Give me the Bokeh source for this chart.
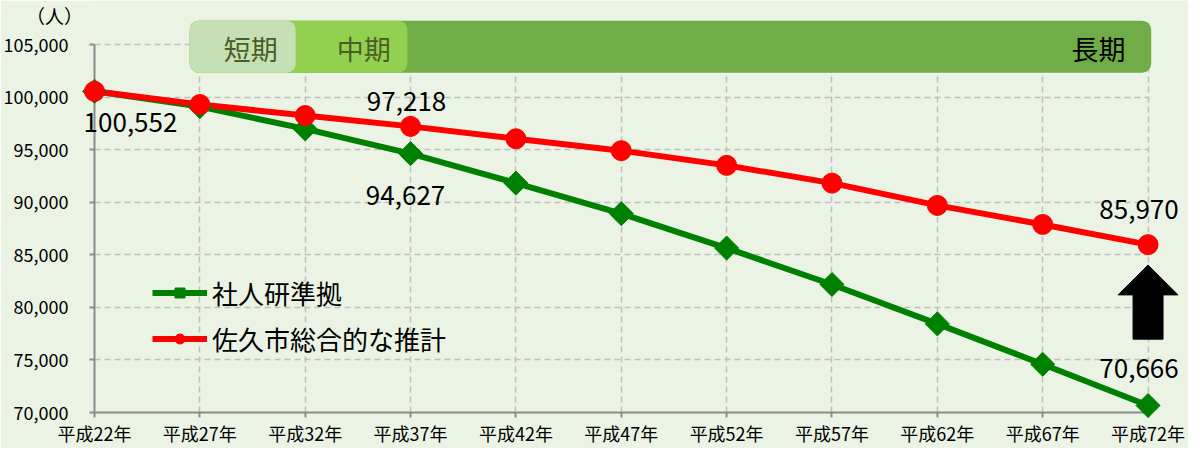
import numpy as np
from bokeh.plotting import figure
from bokeh.models import (FixedTicker, Label, Legend, LegendItem, BoxAnnotation,
                          NumeralTickFormatter, Range1d, ColumnDataSource)
from bokeh.core.properties import value
from bokeh.embed import file_html
from bokeh.resources import INLINE

# ---------------- data ----------------
years = ["平成22年", "平成27年", "平成32年", "平成37年", "平成42年", "平成47年",
         "平成52年", "平成57年", "平成62年", "平成67年", "平成72年"]
ipss = [100552, 99100, 96980, 94627, 91820, 88920, 85640, 82180, 78430, 74590, 70666]
saku = [100552, 99300, 98250, 97218, 96040, 94910, 93510, 91820, 89700, 87890, 85970]
yticks = [70000, 75000, 80000, 85000, 90000, 95000, 100000, 105000]
phases = ["短期", "中期", "長期"]
phase_start = 0.904
phase_ends = [1.91, 2.97, 10.03]
phase_colors = ["#C4E0B4", "#92D050", "#70AD47"]
phase_text_colors = ["#4A5E26", "#4A5E26", "#000000"]
labelled = [(0, "ipss"), (3, "saku"), (3, "ipss"), (10, "saku"), (10, "ipss")]

FONT = "Noto Sans CJK JP"
BG = "#EAF3E4"
GREEN = "#008000"
RED = "#FF0000"
PX_X = 105.38      # px per category step
PX_Y = 0.010563    # px per person

x = list(range(len(years)))

p = figure(width=1188, height=448, output_backend="svg", toolbar_location=None,
           x_range=Range1d(0, 10.384), y_range=Range1d(70000, 109194),
           min_border_left=94, min_border_right=0, min_border_top=0,
           min_border_bottom=33,
           background_fill_color=BG, border_fill_color=BG, outline_line_color=None)

# axes
p.xaxis.ticker = FixedTicker(ticks=x)
p.xaxis.major_label_overrides = {i: s for i, s in enumerate(years)}
p.xaxis.bounds = (0, 10)
p.yaxis.ticker = FixedTicker(ticks=yticks)
p.yaxis.formatter = NumeralTickFormatter(format="0,0")
p.yaxis.bounds = (yticks[0], yticks[-1])
for ax in (p.xaxis[0], p.yaxis[0]):
    ax.axis_line_color = "#8C8C8C"
    ax.axis_line_width = 2
    ax.major_tick_line_color = "#8C8C8C"
    ax.major_tick_line_width = 2
    ax.major_tick_out = 5
    ax.major_tick_in = 0
    ax.minor_tick_out = 0
    ax.minor_tick_in = 0
    ax.major_label_text_font = FONT
    ax.major_label_text_font_size = "18px"
    ax.major_label_text_color = "#000000"
p.xaxis.major_label_standoff = 2
p.yaxis.major_label_standoff = 21

# grids
p.xgrid.ticker = FixedTicker(ticks=x)
p.ygrid.ticker = FixedTicker(ticks=yticks)
for g in (p.xgrid[0], p.ygrid[0]):
    g.grid_line_color = "#BFBFBF"
    g.grid_line_dash = "6 4"
    g.grid_line_width = 1.5
p.xgrid.cross_bounds = (yticks[0], yticks[-1])
p.ygrid.cross_bounds = (0, 10)

# phase band
band_bottom, band_top = 102330, 107270
for i in reversed(range(len(phases))):
    p.add_layout(BoxAnnotation(left=phase_start, right=phase_ends[i],
                               bottom=band_bottom, top=band_top,
                               fill_color=phase_colors[i], fill_alpha=1,
                               line_color=None, border_radius=9))
phase_text_x = [1.483, 2.555, 9.53]
for i, name in enumerate(phases):
    p.add_layout(Label(x=phase_text_x[i], y=(band_bottom + band_top) / 2 - 150,
                       text=name, text_align="center", text_baseline="middle",
                       text_font=FONT, text_font_size="27px",
                       text_color=phase_text_colors[i], level="overlay"))

# series
gl = p.line(x, ipss, line_color=GREEN, line_width=6)
gs = p.scatter(x, ipss, marker="square", angle=np.pi / 4, size=17,
               fill_color=GREEN, line_color=GREEN, level="overlay")
rl = p.line(x, saku, line_color=RED, line_width=6)
rs = p.scatter(x, saku, marker="circle", size=20,
               fill_color=RED, line_color=RED, level="overlay")

# value labels (text glyphs at overlay level so they are not clipped)
offsets = {(0, "ipss"): (36, 31), (3, "saku"): (-4, -25), (3, "ipss"): (-5, 42),
           (10, "saku"): (-9, -35), (10, "ipss"): (-9, -37)}
series = {"ipss": ipss, "saku": saku}
lab = ColumnDataSource(dict(
    x=[idx for idx, key in labelled],
    y=[series[key][idx] for idx, key in labelled],
    text=[f"{series[key][idx]:,}" for idx, key in labelled],
    dx=[offsets[k][0] for k in labelled],
    dy=[offsets[k][1] for k in labelled],
))
p.text(x="x", y="y", text="text", x_offset="dx", y_offset="dy", source=lab,
       text_align="center", text_baseline="middle", text_font=value(FONT),
       text_font_size="26px", text_color="#000000", level="overlay")

# unit label
p.text(x=[0], y=[yticks[-1]], text=["（人）"], x_offset=-40, y_offset=-29,
       text_align="center", text_baseline="middle", text_font=value(FONT),
       text_font_size="19px", text_color="#000000", level="overlay")

# up arrow under the last red point
ax0 = x[-1]
top = saku[-1]
tip = top - 20.5 / PX_Y
base = top - 50.5 / PX_Y
bot = top - 95 / PX_Y
hw = 30 / PX_X
sw = 15 / PX_X
p.patch([ax0, ax0 + hw, ax0 + sw, ax0 + sw, ax0 - sw, ax0 - sw, ax0 - hw],
        [tip, base, base, bot, bot, base, base],
        fill_color="#000000", line_color="#000000")

legend = Legend(items=[LegendItem(label="社人研準拠", renderers=[gl, gs]),
                       LegendItem(label="佐久市総合的な推計", renderers=[rl, rs])],
                location=(58, 55), padding=0, margin=0, spacing=9,
                glyph_width=55, glyph_height=25, label_height=25, label_standoff=5,
                label_text_font=FONT, label_text_font_size="26px",
                label_text_color="#000000",
                background_fill_alpha=0, border_line_alpha=0)
p.add_layout(legend)

open("out.html", "w").write(file_html(p, INLINE))
